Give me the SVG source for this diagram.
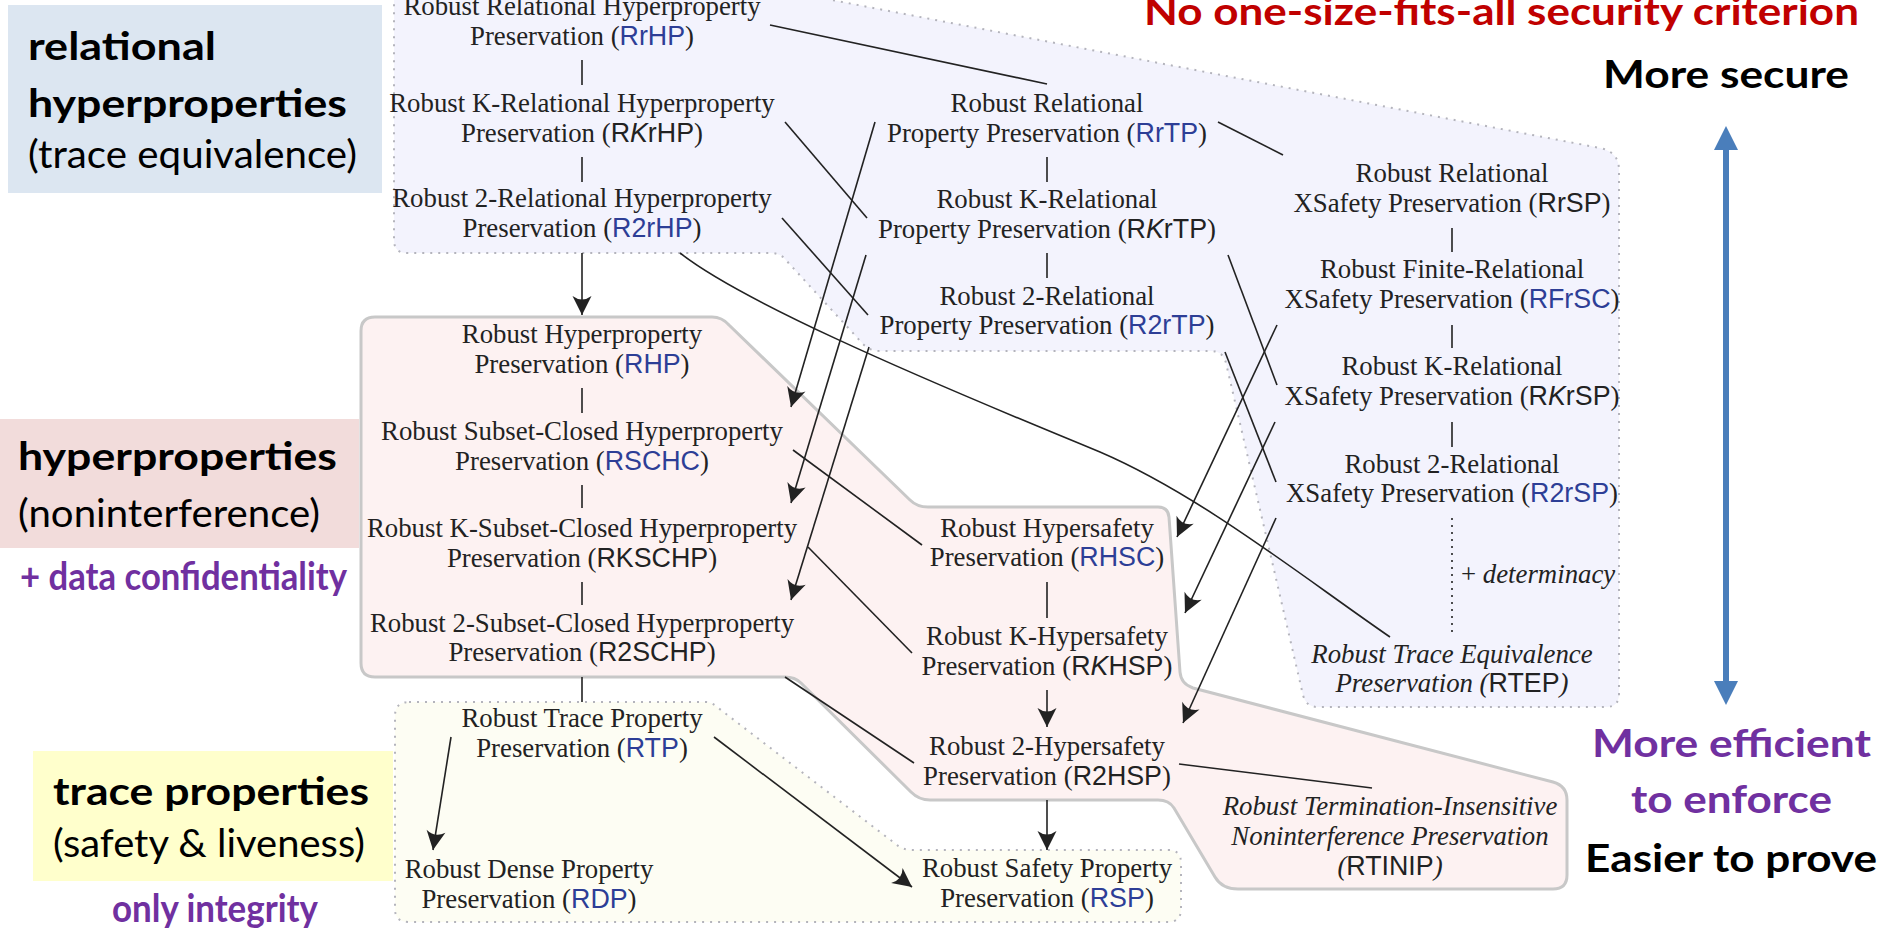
<svg xmlns="http://www.w3.org/2000/svg" width="1883" height="937" viewBox="0 0 1883 937">
<defs>
<style>
.t{font-family:"Liberation Serif","Times New Roman",serif;font-size:26.8px;fill:#222;text-anchor:middle}
.s{font-family:"Liberation Sans",Arial,sans-serif;font-style:normal}
.b{fill:#2d3e96}
.i{font-style:italic}
.lbl{font-family:Lato,"Liberation Sans",sans-serif;font-weight:bold;font-size:39px;fill:#000}
.reg{font-weight:normal}
.pur{fill:#7030a0}
.c{stroke:#222;stroke-width:1.6;fill:none}
.a{stroke:#222;stroke-width:1.6;fill:none;marker-end:url(#ah)}
.dot{stroke:#b4b4bc;stroke-width:2;stroke-dasharray:2 6}
</style>
<marker id="ah" markerUnits="userSpaceOnUse" markerWidth="24" markerHeight="24" viewBox="-22 -12 24 24" refX="0" refY="0" orient="auto">
<path d="M0,0 L-19,-9.5 Q-12,0 -19,9.5 Z" fill="#222"/>
</marker>
</defs>
<rect width="1883" height="937" fill="#fff"/>

<g id="panels">
<path class="dot" fill="#f3f3fd" d="M394,-10 L780,-10 L1600,148 Q1619,152 1619,170 L1619,694 Q1619,707 1606,707 L1318,707 Q1306,707 1303,695 L1226,363 Q1223,351 1211,351 L880,351 Q870,351 863,344 L784,258 Q779,253 770,253 L407,253 Q394,253 394,240 Z"/>
<path fill="#fdf2f2" stroke="#c8c8c8" stroke-width="3" d="M375,317 L712,317 Q722,317 729,325 L910,500 Q917,507 928,507 L1158,507 Q1168,507 1169,517 L1180,672 Q1181,684 1193,688 L1553,782 Q1567,786 1567,800 L1567,875 Q1567,889 1553,889 L1238,889 Q1222,889 1215,877 L1174,808 Q1169,800 1158,800 L930,800 Q919,800 911,792 L801,683 Q795,677 785,677 L375,677 Q361,677 361,663 L361,331 Q361,317 375,317 Z"/>
<path class="dot" fill="#fdfdf3" d="M409,702 L705,702 Q712,702 717,707 L897,845 Q903,850 912,850 L1168,850 Q1181,850 1181,863 L1181,909 Q1181,922 1168,922 L409,922 Q395,922 395,909 L395,716 Q395,702 409,702 Z"/>
</g>

<g id="labels">
<rect x="8" y="5" width="374" height="188" fill="#dce6f1"/>
<text class="lbl" x="28" y="60" textLength="188" lengthAdjust="spacingAndGlyphs">relational</text>
<text class="lbl" x="28" y="117" textLength="319" lengthAdjust="spacingAndGlyphs">hyperproperties</text>
<text class="lbl reg" x="28" y="168" textLength="329" lengthAdjust="spacingAndGlyphs">(trace equivalence)</text>
<rect x="0" y="419" width="359" height="129" fill="#f2dcdb"/>
<text class="lbl" x="18" y="470" textLength="319" lengthAdjust="spacingAndGlyphs">hyperproperties</text>
<text class="lbl reg" x="18" y="527" textLength="302" lengthAdjust="spacingAndGlyphs">(noninterference)</text>
<text class="lbl pur" x="20" y="590" font-size="30" textLength="327" lengthAdjust="spacingAndGlyphs">+ data confidentiality</text>
<rect x="33" y="751" width="360" height="130" fill="#ffffcc"/>
<text class="lbl" x="53" y="805" textLength="316" lengthAdjust="spacingAndGlyphs">trace properties</text>
<text class="lbl reg" x="53" y="857" textLength="312" lengthAdjust="spacingAndGlyphs">(safety &amp; liveness)</text>
<text class="lbl pur" x="112" y="922" font-size="30" textLength="206" lengthAdjust="spacingAndGlyphs">only integrity</text>
<text class="lbl" x="1144" y="25" style="fill:#c00000" textLength="715" lengthAdjust="spacingAndGlyphs">No one-size-fits-all security criterion</text>
<text class="lbl" x="1603" y="88" textLength="246" lengthAdjust="spacingAndGlyphs">More secure</text>
<text class="lbl pur" x="1592" y="757" textLength="279" lengthAdjust="spacingAndGlyphs">More efficient</text>
<text class="lbl pur" x="1631" y="813" textLength="201" lengthAdjust="spacingAndGlyphs">to enforce</text>
<text class="lbl" x="1585" y="872" textLength="292" lengthAdjust="spacingAndGlyphs">Easier to prove</text>
<path fill="#4a7ebb" d="M1726,126 L1738,150 L1729,150 L1729,681 L1738,681 L1726,705 L1714,681 L1723,681 L1723,150 L1714,150 Z"/>
</g>

<g id="connectors">
<path class="c" d="M582,60 V85 M582,157 V182 M582,388 V413 M582,485 V508 M582,582 V605 M582,677 V702"/>
<path class="c" d="M1047,157 V182 M1047,253 V278 M1047,582 V618"/>
<path class="c" d="M1452,228 V252 M1452,325 V348 M1452,422 V447"/>
<path class="c" d="M1452,518 V632" stroke-dasharray="2 5"/>
<path class="c" d="M770,25 L1047,84"/>
<path class="c" d="M785,122 L867,218"/>
<path class="c" d="M782,218 L868,315"/>
<path class="c" d="M680,253 C740,300 900,370 1100,452 C1200,495 1300,575 1390,637"/>
<path class="c" d="M1218,122 L1283,155"/>
<path class="c" d="M1228,255 L1277,385"/>
<path class="c" d="M1225,352 L1276,482"/>
<path class="c" d="M793,450 L922,545"/>
<path class="c" d="M808,547 L912,653"/>
<path class="c" d="M785,677 L914,763"/>
<path class="c" d="M1179,764 L1372,788"/>
<path class="a" d="M582,253 L582,315"/>
<path class="a" d="M875,122 L791,407"/>
<path class="a" d="M866,255 L791,503"/>
<path class="a" d="M869,347 L791,600"/>
<path class="a" d="M1277,325 L1177,537"/>
<path class="a" d="M1275,422 L1185,613"/>
<path class="a" d="M1276,518 L1183,723"/>
<path class="a" d="M1047,690 L1047,727"/>
<path class="a" d="M1047,800 L1047,850"/>
<path class="a" d="M451,737 L433,850"/>
<path class="a" d="M714,737 L912,887"/>
</g>

<g id="n-RrHP"><text class="t" x="582" y="15">Robust Relational Hyperproperty</text><text class="t" x="582" y="45">Preservation (<tspan class="s b">RrHP</tspan>)</text></g>
<g id="n-RKrHP"><text class="t" x="582" y="112">Robust K-Relational Hyperproperty</text><text class="t" x="582" y="142">Preservation (<tspan class="s">R<tspan class="i">K</tspan>rHP</tspan>)</text></g>
<g id="n-R2rHP"><text class="t" x="582" y="207">Robust 2-Relational Hyperproperty</text><text class="t" x="582" y="237">Preservation (<tspan class="s b">R2rHP</tspan>)</text></g>
<g id="n-RHP"><text class="t" x="582" y="343">Robust Hyperproperty</text><text class="t" x="582" y="373">Preservation (<tspan class="s b">RHP</tspan>)</text></g>
<g id="n-RSCHC"><text class="t" x="582" y="440">Robust Subset-Closed Hyperproperty</text><text class="t" x="582" y="470">Preservation (<tspan class="s b">RSCHC</tspan>)</text></g>
<g id="n-RKSCHP"><text class="t" x="582" y="537">Robust K-Subset-Closed Hyperproperty</text><text class="t" x="582" y="567">Preservation (<tspan class="s">RKSCHP</tspan>)</text></g>
<g id="n-R2SCHP"><text class="t" x="582" y="632">Robust 2-Subset-Closed Hyperproperty</text><text class="t" x="582" y="661">Preservation (<tspan class="s">R2SCHP</tspan>)</text></g>
<g id="n-RTP"><text class="t" x="582" y="727">Robust Trace Property</text><text class="t" x="582" y="757">Preservation (<tspan class="s b">RTP</tspan>)</text></g>
<g id="n-RDP"><text class="t" x="529" y="878">Robust Dense Property</text><text class="t" x="529" y="908">Preservation (<tspan class="s b">RDP</tspan>)</text></g>

<g id="n-RrTP"><text class="t" x="1047" y="112">Robust Relational</text><text class="t" x="1047" y="142">Property Preservation (<tspan class="s b">RrTP</tspan>)</text></g>
<g id="n-RKrTP"><text class="t" x="1047" y="208">Robust K-Relational</text><text class="t" x="1047" y="238">Property Preservation (<tspan class="s">R<tspan class="i">K</tspan>rTP</tspan>)</text></g>
<g id="n-R2rTP"><text class="t" x="1047" y="305">Robust 2-Relational</text><text class="t" x="1047" y="334">Property Preservation (<tspan class="s b">R2rTP</tspan>)</text></g>

<g id="n-RrSP"><text class="t" x="1452" y="182">Robust Relational</text><text class="t" x="1452" y="212">XSafety Preservation (<tspan class="s">RrSP</tspan>)</text></g>
<g id="n-RFrSC"><text class="t" x="1452" y="278">Robust Finite-Relational</text><text class="t" x="1452" y="308">XSafety Preservation (<tspan class="s b">RFrSC</tspan>)</text></g>
<g id="n-RKrSP"><text class="t" x="1452" y="375">Robust K-Relational</text><text class="t" x="1452" y="405">XSafety Preservation (<tspan class="s">R<tspan class="i">K</tspan>rSP</tspan>)</text></g>
<g id="n-R2rSP"><text class="t" x="1452" y="473">Robust 2-Relational</text><text class="t" x="1452" y="502">XSafety Preservation (<tspan class="s b">R2rSP</tspan>)</text></g>
<g id="n-det"><text class="t" x="1461" y="583" style="text-anchor:start">+ <tspan class="i">determinacy</tspan></text></g>
<g id="n-RTEP"><text class="t i" x="1452" y="663">Robust Trace Equivalence</text><text class="t i" x="1452" y="692">Preservation (<tspan class="s">RTEP</tspan>)</text></g>

<g id="n-RHSC"><text class="t" x="1047" y="537">Robust Hypersafety</text><text class="t" x="1047" y="566">Preservation (<tspan class="s b">RHSC</tspan>)</text></g>
<g id="n-RKHSP"><text class="t" x="1047" y="645">Robust K-Hypersafety</text><text class="t" x="1047" y="675">Preservation (<tspan class="s">R<tspan class="i">K</tspan>HSP</tspan>)</text></g>
<g id="n-R2HSP"><text class="t" x="1047" y="755">Robust 2-Hypersafety</text><text class="t" x="1047" y="785">Preservation (<tspan class="s">R2HSP</tspan>)</text></g>
<g id="n-RSP"><text class="t" x="1047" y="877">Robust Safety Property</text><text class="t" x="1047" y="907">Preservation (<tspan class="s b">RSP</tspan>)</text></g>
<g id="n-RTINIP"><text class="t i" x="1390" y="815">Robust Termination-Insensitive</text><text class="t i" x="1390" y="845">Noninterference Preservation</text><text class="t i" x="1390" y="875">(<tspan class="s">RTINIP</tspan>)</text></g>
</svg>
